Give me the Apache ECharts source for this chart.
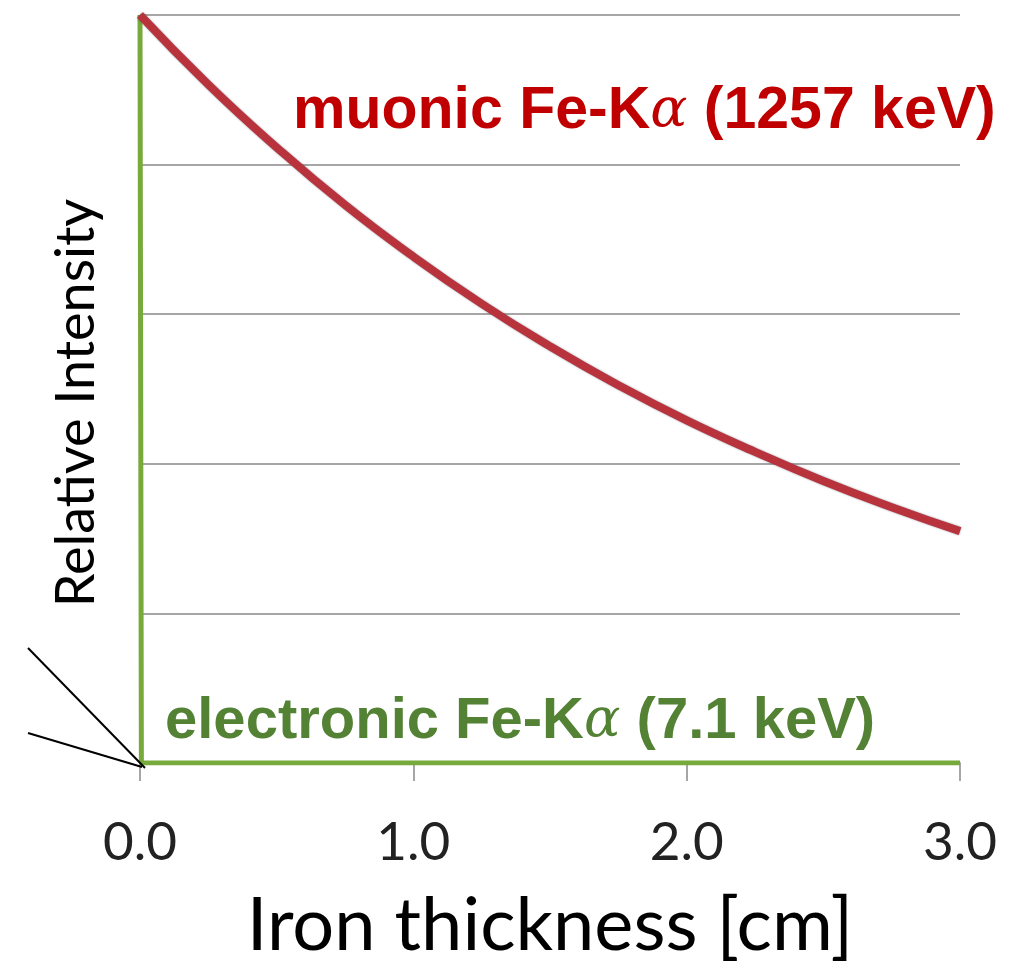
<!DOCTYPE html>
<html>
<head>
<meta charset="utf-8">
<script src="https://cdn.jsdelivr.net/npm/echarts@6/dist/echarts.min.js"></script>
<style>html,body{margin:0;padding:0;background:#fff;overflow:hidden}#c{width:1020px;height:963px}</style>
</head>
<body>
<div id="c"></div>
<script>
const xTicks = [0, 1, 2, 3];
const muonicX = [0, 0.25, 0.5, 0.75, 1.0, 1.25, 1.5, 1.75, 2.0, 2.25, 2.5, 2.75, 3.0];
const muonicY = [1.0, 0.907, 0.823, 0.746, 0.677, 0.614, 0.557, 0.505, 0.458, 0.416, 0.377, 0.342, 0.31];
const electronicX = [0, 0.005, 3.0];
const electronicY = [1.0, 0, 0];
const muonicLabel = 'muonic Fe-K';
const muonicEnergy = ' (1257 keV)';
const electronicLabel = 'electronic Fe-K';
const electronicEnergy = ' (7.1 keV)';

const chart = echarts.init(document.getElementById('c'), null, {renderer: 'canvas', width: 1020, height: 963});
chart.setOption({
  animation: false,
  backgroundColor: '#ffffff',
  grid: {left: 140, width: 820, top: 15, height: 748, containLabel: false, outerBoundsMode: 'none'},
  xAxis: {
    type: 'value', min: 0, max: 3, interval: 1,
    name: 'Iron thickness [cm]', nameLocation: 'middle', nameGap: 126,
    nameTextStyle: {fontFamily: 'Lato', fontSize: 74, color: '#000'},
    axisLine: {show: true, lineStyle: {color: '#a6a6a6', width: 2}},
    axisTick: {show: true, inside: false, length: 18, lineStyle: {color: '#a6a6a6', width: 2}},
    axisLabel: {fontFamily: 'Lato', fontSize: 53, color: '#222', margin: 53,
      formatter: v => v.toFixed(1)},
    splitLine: {show: false}
  },
  yAxis: {
    type: 'value', min: 0, max: 1, interval: 0.2,
    name: 'Relative Intensity', nameLocation: 'middle', nameGap: 36,
    nameTextStyle: {fontFamily: 'Lato', fontSize: 54, color: '#000', padding: [0, 28, 0, 0]},
    axisLine: {show: false}, axisTick: {show: false}, axisLabel: {show: false},
    splitLine: {show: true, lineStyle: {color: '#a6a6a6', width: 2}}
  },
  series: [
    {
      type: 'line', name: 'electronic', data: electronicX.map((x, i) => [x, electronicY[i]]),
      showSymbol: false, lineStyle: {color: '#77a93b', width: 5}, z: 3
    },
    {
      type: 'line', name: 'muonic', data: muonicX.map((x, i) => [x, muonicY[i]]),
      smooth: true, showSymbol: false,
      lineStyle: {color: '#b8333b', width: 8, shadowColor: 'rgba(60,60,90,0.6)', shadowBlur: 2}, z: 4
    }
  ],
  graphic: [
    {type: 'line', shape: {x1: 28, y1: 648, x2: 145, y2: 768}, style: {stroke: '#000', lineWidth: 2}, z: 10},
    {type: 'line', shape: {x1: 28, y1: 733, x2: 142, y2: 767}, style: {stroke: '#000', lineWidth: 2}, z: 10},
    {type: 'text', left: 293, top: 82, z: 10, style: {
      text: '{a|' + muonicLabel + '}{g|α}{a|' + muonicEnergy + '}',
      rich: {
        a: {fontFamily: 'Liberation Sans', fontWeight: 'bold', fontSize: 59, fill: '#c00000'},
        g: {fontFamily: 'DejaVu Serif', fontStyle: 'italic', fontSize: 55, fill: '#c00000'}
      }}},
    {type: 'text', left: 165, top: 693, z: 10, style: {
      text: '{a|' + electronicLabel + '}{g|α}{a|' + electronicEnergy + '}',
      rich: {
        a: {fontFamily: 'Liberation Sans', fontWeight: 'bold', fontSize: 58, fill: '#548235'},
        g: {fontFamily: 'DejaVu Serif', fontStyle: 'italic', fontSize: 54, fill: '#548235'}
      }}}
  ]
});
</script>
</body>
</html>
